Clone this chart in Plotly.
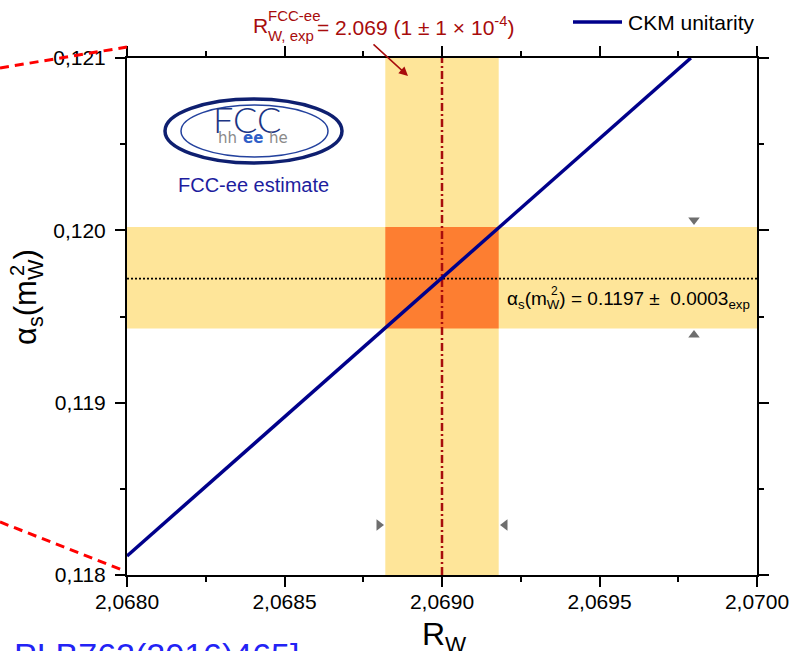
import plotly.graph_objects as go

# ---------------- data ----------------
x_range = [2.0680, 2.0700]
y_range = [0.1180, 0.1210]

x_tickvals = [2.0680, 2.0685, 2.0690, 2.0695, 2.0700]
x_ticktext = ["2,0680", "2,0685", "2,0690", "2,0695", "2,0700"]
y_tickvals = [0.118, 0.119, 0.120, 0.121]
y_ticktext = ["0,118", "0,119", "0,120", "0,121"]

ckm_name = "CKM unitarity"
ckm_x = [2.0680, 2.06979]
ckm_y = [0.11811, 0.12100]

rw_center = 2.0690
rw_band = [2.06882, 2.06918]
as_center = 0.11972
as_band = [0.11943, 0.12002]

# marker triangles indicating band edges
tri_h_x = [2.06880, 2.06920]
tri_h_y = [0.11829, 0.11829]
tri_v_x = [2.06980, 2.06980]
tri_v_y = [0.12006, 0.119392]

# ---------------- styles ----------------
FONT = "Liberation Sans, Arial, sans-serif"
NAVY = "#00008B"
DARKRED = "#A80C0C"
YELLOW = "#FEE599"
ORANGE = "#FD7E31"

W, H = 792, 651
L, R, T, B = 127, 35, 58, 76
PW, PH = W - L - R, H - T - B


def px(xp):
    return (xp - L) / PW


def py(yp):
    return (H - B - yp) / PH


fig = go.Figure()

# vertical dash-dot line
fig.add_trace(go.Scatter(
    x=[rw_center, rw_center], y=y_range, mode="lines",
    line=dict(color=DARKRED, width=2.5, dash="8px,3px,2px,3px"),
    showlegend=False, hoverinfo="skip"))

# dotted horizontal line
fig.add_trace(go.Scatter(
    x=x_range, y=[as_center, as_center], mode="lines",
    line=dict(color="black", width=1.6, dash="2px,2px"),
    showlegend=False, hoverinfo="skip"))

# CKM unitarity line
fig.add_trace(go.Scatter(
    x=ckm_x, y=ckm_y, mode="lines", name=ckm_name,
    line=dict(color=NAVY, width=3.5), showlegend=False))

# triangles
for sx, sy, sym in [(tri_h_x[0], tri_h_y[0], "triangle-right"),
                    (tri_h_x[1], tri_h_y[1], "triangle-left"),
                    (tri_v_x[0], tri_v_y[0], "triangle-down"),
                    (tri_v_x[1], tri_v_y[1], "triangle-up")]:
    fig.add_trace(go.Scatter(
        x=[sx], y=[sy], mode="markers",
        marker=dict(symbol=sym, size=10, color="#6E6E6E"),
        showlegend=False, hoverinfo="skip"))

shapes = [
    # bands
    dict(type="rect", xref="x", yref="y", x0=x_range[0], x1=x_range[1],
         y0=as_band[0], y1=as_band[1], fillcolor=YELLOW, line_width=0, layer="below"),
    dict(type="rect", xref="x", yref="y", x0=rw_band[0], x1=rw_band[1],
         y0=y_range[0], y1=y_range[1], fillcolor=YELLOW, line_width=0, layer="below"),
    dict(type="rect", xref="x", yref="y", x0=rw_band[0], x1=rw_band[1],
         y0=as_band[0], y1=as_band[1], fillcolor=ORANGE, line_width=0, layer="below"),
    # frame extensions on the right
    dict(type="line", xref="paper", yref="paper", x0=1, x1=px(767), y0=0, y1=0,
         line=dict(color="black", width=2)),
    dict(type="line", xref="paper", yref="paper", x0=1, x1=px(767), y0=1, y1=1,
         line=dict(color="black", width=2)),
    # red dashed zoom lines (decoration outside the plot)
    dict(type="line", xref="paper", yref="paper", x0=px(0), y0=py(68), x1=px(127), y1=py(47),
         line=dict(color="#FF0000", width=3, dash="9px,6px")),
    dict(type="line", xref="paper", yref="paper", x0=px(0), y0=py(522), x1=px(125), y1=py(571),
         line=dict(color="#FF0000", width=3, dash="9px,6px")),
    # FCC logo ellipses
    dict(type="circle", xref="paper", yref="paper", x0=px(165), x1=px(342), y0=py(163), y1=py(99),
         line=dict(color="#0E1F70", width=3.5)),
    dict(type="circle", xref="paper", yref="paper", x0=px(181), x1=px(328), y0=py(157), y1=py(105),
         line=dict(color="#24429E", width=1.5)),
    # legend line
    dict(type="line", xref="paper", yref="paper", x0=px(573), x1=px(622), y0=py(22), y1=py(22),
         line=dict(color=NAVY, width=3.5)),
]


def note(x, y, text, size, color="black", xa="center", ya="middle", family=FONT, **kw):
    return dict(xref="paper", yref="paper", x=px(x), y=py(y), xanchor=xa, yanchor=ya,
                text=text, showarrow=False, font=dict(family=family, size=size, color=color),
                **kw)


annotations = [
    # top formula pieces
    note(251, 26, "R", 21, DARKRED, xa="left"),
    note(266, 16, "FCC-ee", 15, DARKRED, xa="left"),
    note(266, 35, "W, exp", 15, DARKRED, xa="left"),
    note(315, 26, "= 2.069 (1 ± 1 × 10<sup>-4</sup>)", 21, DARKRED, xa="left"),
    # arrow
    dict(xref="paper", yref="paper", x=px(408), y=py(76), ax=-36, ay=-33,
         axref="pixel", ayref="pixel", text="", showarrow=True, arrowhead=2,
         arrowsize=1.2, arrowwidth=1.5, arrowcolor=DARKRED),
    # legend text
    note(626, 22, ckm_name, 21, xa="left"),
    # band text
    note(505, 300, "α<sub>s</sub>(m<sub>W</sub>) = 0.1197 ±  0.0003<sub>exp</sub>", 19, xa="left"),
    note(554, 291, "2", 12),
    # logo texts
    dict(xref="paper", yref="paper", x=px(247), y=py(119), xanchor="center", yanchor="middle",
         text="FCC", showarrow=False, font=dict(family="Lato, Open Sans, sans-serif", size=36,
                                               color="#1C3584", weight=300)),
    note(227, 138, "hh", 15, "#8A8A8A", family="DejaVu Sans"),
    note(253, 138, "<b>ee</b>", 15, "#2F5FC8", family="DejaVu Sans"),
    note(278, 138, "he", 15, "#8A8A8A", family="DejaVu Sans"),
    note(253, 185, "FCC-ee estimate", 20, "#1D1D9E"),
    # y title
    note(28, 347, "α<sub>s</sub>(m<sub>W</sub>)", 31, xa="center", ya="bottom", textangle=-90),
    note(17, 271, "2", 20, textangle=-90),
    # x title
    note(444, 614, "R<sub>W</sub>", 32, ya="top"),
    # reference text at bottom (cut off)
    note(12, 634, "PLB762(2016)465]", 34, "#2323F5", xa="left", ya="top"),
]

axis_common = dict(
    showline=True, linecolor="black", linewidth=2, mirror="ticks",
    ticks="outside", ticklen=10, tickwidth=2, tickcolor="black",
    showgrid=False, zeroline=False, automargin=False,
    tickfont=dict(family=FONT, size=21, color="black"),
)

fig.update_layout(
    width=W, height=H,
    margin=dict(l=L, r=R, t=T, b=B),
    paper_bgcolor="white", plot_bgcolor="white",
    font=dict(family=FONT, color="black"),
    shapes=shapes, annotations=annotations,
    showlegend=False,
    xaxis=dict(range=x_range, tickvals=x_tickvals, ticktext=x_ticktext,
               ticklabelstandoff=-3,
               minor=dict(dtick=0.00025, ticks="outside", ticklen=5, tickwidth=2,
                          tickcolor="black", showgrid=False),
               **axis_common),
    yaxis=dict(range=y_range, tickvals=y_tickvals, ticktext=y_ticktext,
               ticklabelstandoff=5,
               minor=dict(dtick=0.0005, ticks="outside", ticklen=5, tickwidth=2,
                          tickcolor="black", showgrid=False),
               **axis_common),
)

fig.write_html("out.html", config={"displayModeBar": False},
               post_script="document.body.style.margin='0';")
